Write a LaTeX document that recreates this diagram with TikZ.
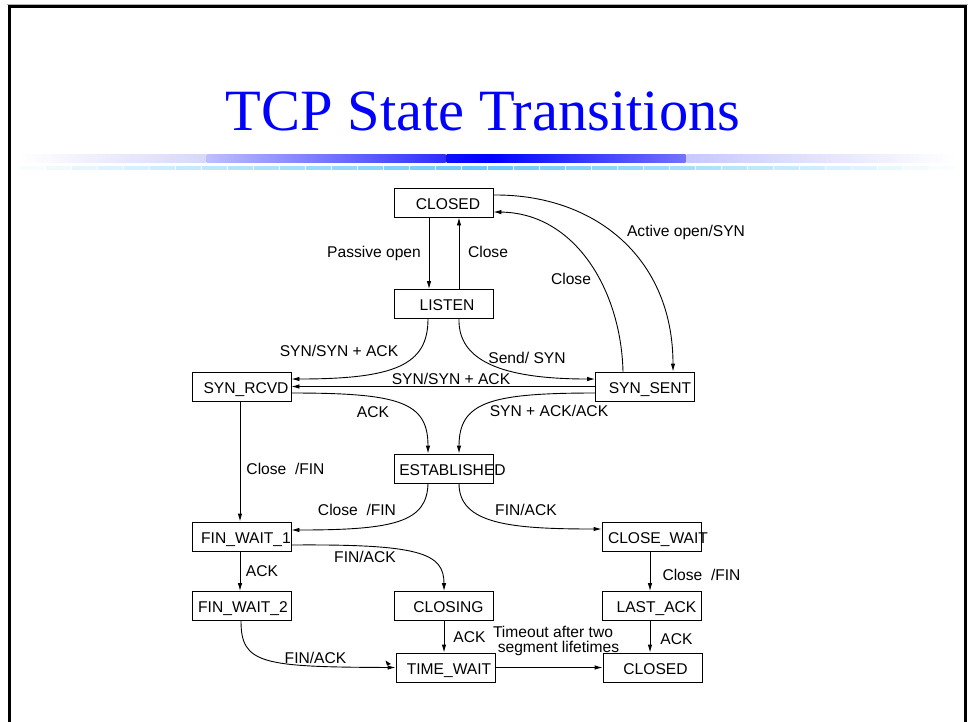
\documentclass[tikz,border=0pt]{standalone}
\usepackage{fontspec}
\newfontfamily\diagfont{Liberation Sans}
\newfontfamily\headfont{Liberation Serif}
\usetikzlibrary{arrows.meta}
\definecolor{slideblue}{RGB}{0,0,255}
\definecolor{bandcyan}{RGB}{100,200,250}
\definecolor{bandA}{RGB}{215,215,250}
\definecolor{bandB}{RGB}{190,190,255}
\definecolor{bandC}{RGB}{45,45,255}
\definecolor{bandD}{RGB}{15,15,255}
\definecolor{bandE}{RGB}{115,115,255}
\definecolor{bandF}{RGB}{200,200,252}
\begin{document}
\begin{tikzpicture}[x=1pt,y=-1pt,
  stbox/.style={draw, line width=0.9pt, minimum width=99pt, minimum height=29pt, inner sep=0pt},
  lbl/.style={font=\diagfont\fontsize{15.6}{15}\selectfont, inner sep=0pt, text height=11.2pt, text depth=0pt},
  tr/.style={line width=0.9pt, -{Latex[length=8pt,width=4.5pt]}},
]
\useasboundingbox (0,0) rectangle (971,721);
\fill[white] (0,0) rectangle (971,721);

% slide frame
\draw[gray!60, line width=1pt] (7,4.5) -- (968,4.5);
\draw[line width=3pt, line join=miter] (9.5,730) -- (9.5,6.5) -- (965.8,6.5) -- (965.8,730);

% title
\node[font=\headfont\fontsize{58.5}{60}\selectfont, text=slideblue, anchor=base, inner sep=0pt] (title) at (483,130) {TCP State Transitions};

% header rule: blue band
\shade[left color=white, right color=bandA] (20,154) rectangle (205.5,162);
\shade[left color=bandB, right color=bandC] (206.5,154) rectangle (445.5,162);
\shade[left color=bandD, right color=slideblue] (446.5,154) rectangle (490,162);
\shade[left color=slideblue, right color=bandE] (490,154) rectangle (685.5,162);
\shade[left color=bandF, right color=white] (686.5,154) rectangle (955,162);
% header rule: tiled cyan band
\foreach \i in {0,...,35} {
  \pgfmathsetmacro{\xa}{20+\i*26}
  \pgfmathsetmacro{\xb}{\xa+25}
  \pgfmathsetmacro{\p}{max(0,100*(1-abs(\xa+13-485)/475))}
  \fill[bandcyan!\p!white] (\xa,166) rectangle (\xb,170);
}

% states
\node[stbox] (closedT) at (443.5,202.5) {};
\node[stbox] (listen) at (443.5,304) {};
\node[stbox] (synrcvd) at (241.5,386.5) {};
\node[stbox] (synsent) at (645,386.5) {};
\node[stbox] (est) at (444,468.5) {};
\node[stbox] (fwa) at (241.5,536.5) {};
\node[stbox] (cwait) at (651.5,536.5) {};
\node[stbox] (fwb) at (241.5,606) {};
\node[stbox] (closing) at (444,606) {};
\node[stbox] (lastack) at (651.5,606) {};
\node[stbox] (twait) at (445.5,667.5) {};
\node[stbox] (closedB) at (652.5,667.5) {};

\node[lbl] (closedT-t) at ([xshift=4.5pt,yshift=-1pt]closedT.center) {CLOSED};
\node[lbl] (listen-t) at ([xshift=3.5pt,yshift=-1pt]listen.center) {LISTEN};
\node[lbl] (synrcvd-t) at ([xshift=4.5pt,yshift=-1pt]synrcvd.center) {SYN\_RCVD};
\node[lbl] (synsent-t) at ([xshift=5pt,yshift=-1pt]synsent.center) {SYN\_SENT};
\node[lbl] (est-t) at ([xshift=8.5pt,yshift=-1pt]est.center) {ESTABLISHED};
\node[lbl] (fwa-t) at ([xshift=4.5pt,yshift=-1pt]fwa.center) {FIN\_WAIT\_1};
\node[lbl] (cwait-t) at ([xshift=6.5pt,yshift=-1pt]cwait.center) {CLOSE\_WAIT};
\node[lbl] (fwb-t) at ([xshift=1.5pt,yshift=-1pt]fwb.center) {FIN\_WAIT\_2};
\node[lbl] (closing-t) at ([xshift=4.5pt,yshift=-1pt]closing.center) {CLOSING};
\node[lbl] (lastack-t) at ([xshift=5pt,yshift=-1pt]lastack.center) {LAST\_ACK};
\node[lbl] (twait-t) at ([xshift=3.5pt,yshift=-1pt]twait.center) {TIME\_WAIT};
\node[lbl] (closedB-t) at ([xshift=3pt,yshift=-1pt]closedB.center) {CLOSED};

% transitions
\draw[tr] ([xshift=-14.5pt]closedT.south) -- ([xshift=-14.5pt]listen.north);
\draw[tr] ([xshift=15.5pt]listen.north) -- ([xshift=15.5pt]closedT.south);
\draw[tr] ([yshift=7.5pt]closedT.east) .. controls (595,194) and (673,258) .. ([xshift=28pt]synsent.north);
\draw[tr] ([xshift=-22pt]synsent.north) .. controls (621,290) and (575,213) .. ([yshift=-9.5pt]closedT.east);
\draw[tr] ([xshift=-15.5pt]listen.south) .. controls (428,365) and (395,379) .. ([yshift=7.5pt]synrcvd.east);
\draw[tr] ([xshift=15.5pt]listen.south) .. controls (458,360) and (500,379) .. ([yshift=7.5pt]synsent.west);
\draw[tr] (synsent.west) -- (synrcvd.east);
\draw[tr] ([yshift=-6.5pt]synrcvd.east) .. controls (400,393) and (428,402) .. ([xshift=-16pt]est.north);
\draw[tr] ([yshift=-6.5pt]synsent.west) .. controls (490,393) and (459,402) .. ([xshift=15pt]est.north);
\draw[tr] ([xshift=-1.5pt]synrcvd.south) -- ([xshift=-1.5pt]fwa.north);
\draw[tr] ([xshift=-16pt]est.south) .. controls (427,522) and (395,530) .. ([yshift=6.5pt]fwa.east);
\draw[tr] ([xshift=15pt]est.south) .. controls (459,524) and (510,529) .. ([yshift=7.5pt]cwait.west);
\draw[tr] ([xshift=-1.5pt]cwait.south) -- ([xshift=-1.5pt]lastack.north);
\draw[tr] ([xshift=-1.5pt]fwa.south) -- ([xshift=-1.5pt]fwb.north);
\draw[tr] ([yshift=-8.5pt]fwa.east) .. controls (420,544) and (444,553) .. (closing.north);
\draw[tr] (closing.south) -- ([xshift=-1.5pt]twait.north);
\draw[tr] ([xshift=-1.5pt]lastack.south) -- ([xshift=-2.5pt]closedB.north);
\draw[tr] ([xshift=-0.5pt]fwb.south) .. controls (241,664) and (262,667) .. (twait.west);
\draw[tr] (twait.east) -- (closedB.west);

% small stray tip beside TIME_WAIT
\fill (385.5,660.5) -- (391,664) -- (387,665.5) -- cycle;

% transition labels
\node[lbl] (l-popen) at (374,252) {Passive open};
\node[lbl] (l-close1) at (488,252) {Close};
\node[lbl] (l-aopen) at (686,230.5) {Active open/SYN};
\node[lbl] (l-close2) at (571,279) {Close};
\node[lbl] (l-synack1) at (339,351) {SYN/SYN + ACK};
\node[lbl] (l-send) at (527,358) {Send/ SYN};
\node[lbl] (l-synack2) at (451,378.7) {SYN/SYN + ACK};
\node[lbl] (l-ack1) at (373,412) {ACK};
\node[lbl] (l-synackack) at (549,411) {SYN + ACK/ACK};
\node[lbl] (l-cfin1) at (285.5,469) {Close\ \ /FIN};
\node[lbl] (l-cfin2) at (357,510) {Close\ \ /FIN};
\node[lbl] (l-finack1) at (526,510) {FIN/ACK};
\node[lbl] (l-cfin3) at (701.5,574.5) {Close\ \ /FIN};
\node[lbl] (l-finack2) at (365,557) {FIN/ACK};
\node[lbl] (l-ack2) at (262,571) {ACK};
\node[lbl] (l-ack3) at (469.5,637) {ACK};
\node[lbl] (l-finack3) at (315.5,658) {FIN/ACK};
\node[lbl] (l-ack4) at (676.5,639) {ACK};
\node[lbl] (l-tmo1) at (553,632) {Timeout after two};
\node[lbl] (l-tmo2) at (558.5,647) {segment lifetimes};
\end{tikzpicture}
\end{document}
